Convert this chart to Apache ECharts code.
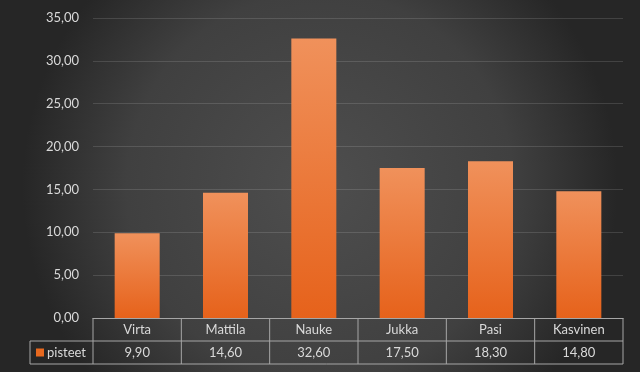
<!DOCTYPE html>
<html><head><meta charset="utf-8">
<style>html,body{margin:0;padding:0;background:#fff;}#c{width:644px;height:376px;}</style>
<script src="https://cdn.jsdelivr.net/npm/echarts@6/dist/echarts.min.js"></script>
</head><body><div id="c"></div>
<script>
const categories = ['Virta','Mattila','Nauke','Jukka','Pasi','Kasvinen'];
const seriesName = 'pisteet';
const values = [9.90, 14.60, 32.60, 17.50, 18.30, 14.80];
const yTicks = [0,5,10,15,20,25,30,35];

const fmt = v => v.toFixed(2).replace('.', ',');
const FONT = 'Lato';
const TXT = '#d9d9d9';
const BORDER = '#a6a6a6';

const chart = echarts.init(document.getElementById('c'), null, {renderer:'canvas'});
const gridL = 93, gridR = 21, gridT = 18, gridB = 58;
const bgRect = {type:'rect', id:'bg', z:-10, silent:true, shape:{x:0,y:0,width:640,height:372},
    style:{fill:new echarts.graphic.RadialGradient(0.5,0.5,0.8,[
      {offset:0,color:'#4e4e4e'},{offset:0.65,color:'#404040'},{offset:1,color:'#262626'}])}};
chart.setOption({
  animation:false,
  backgroundColor:'#ffffff',
  graphic:[bgRect],
  grid:{left:gridL,right:gridR,top:gridT,bottom:gridB},
  xAxis:{type:'category',data:categories,axisLine:{show:true,lineStyle:{color:BORDER,width:1}},
    axisTick:{show:false},axisLabel:{show:false}},
  yAxis:{type:'value',min:yTicks[0],max:yTicks[yTicks.length-1],interval:5,
    axisLine:{show:false},axisTick:{show:false},
    axisLabel:{formatter:v=>fmt(v),color:TXT,fontFamily:FONT,fontSize:13,margin:14},
    splitLine:{lineStyle:{color:'rgba(255,255,255,0.13)',width:1}}},
  series:[{name:seriesName,type:'bar',data:values,barWidth:45,
    itemStyle:{color:new echarts.graphic.LinearGradient(0,0,0,1,[
      {offset:0,color:'#f0915b'},{offset:1,color:'#e6621b'}]),
      shadowBlur:4,shadowColor:'rgba(0,0,0,0.45)',shadowOffsetY:1}}]
});

// build data table from axis scale
const n = categories.length;
const c0 = chart.convertToPixel({xAxisIndex:0}, 0);
const c1 = chart.convertToPixel({xAxisIndex:0}, 1);
const bw = c1 - c0;
const y0 = chart.convertToPixel({yAxisIndex:0}, 0);
const rowH = 23;
const leftX = c0 - bw/2, rightX = c0 + bw*(n-0.5);
const labelX = 30;
const g = [];
const line = (x1,y1,x2,y2)=>({type:'line',silent:true,shape:{x1,y1,x2,y2},style:{stroke:BORDER,lineWidth:1}});
g.push(line(leftX, y0+rowH, rightX, y0+rowH));
g.push(line(labelX, y0+rowH, leftX, y0+rowH));
g.push(line(labelX, y0+2*rowH, rightX, y0+2*rowH));
g.push(line(labelX, y0+rowH, labelX, y0+2*rowH));
for(let i=0;i<=n;i++){
  const x = leftX + i*bw;
  g.push(line(x, y0, x, y0+2*rowH));
}
categories.forEach((c,i)=>{
  const cx = chart.convertToPixel({xAxisIndex:0}, i);
  g.push({type:'text',silent:true,style:{text:c,x:cx,y:y0+rowH/2+0.5,align:'center',verticalAlign:'middle',fill:TXT,font:'13px '+FONT}});
  g.push({type:'text',silent:true,style:{text:fmt(values[i]),x:cx,y:y0+rowH*1.5+0.5,align:'center',verticalAlign:'middle',fill:TXT,font:'13px '+FONT}});
});
g.push({type:'rect',silent:true,shape:{x:36,y:y0+rowH*1.5-4,width:8,height:8},style:{fill:'#e8691f'}});
g.push({type:'text',silent:true,style:{text:seriesName,x:47,y:y0+rowH*1.5+0.5,align:'left',verticalAlign:'middle',fill:TXT,font:'13px '+FONT}});
chart.setOption({graphic:[bgRect,{type:'group',id:'table',children:g}]});
</script></body></html>
